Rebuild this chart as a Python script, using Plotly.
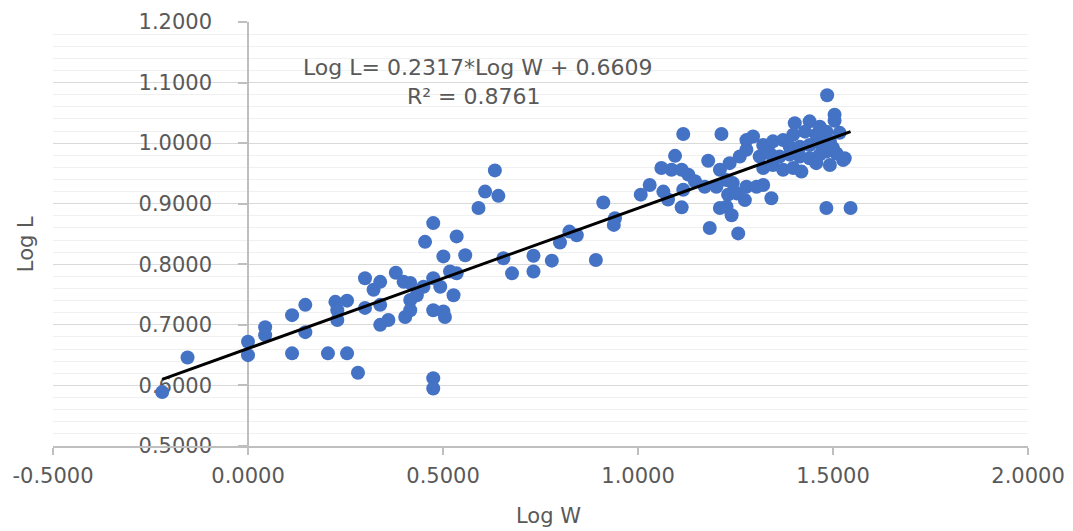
import plotly.graph_objects as go

# Data
log_w = [-0.220, -0.155, 0.000, 0.000, 0.044, 0.044, 0.113, 0.113, 0.147, 0.147,
         0.205, 0.254, 0.282, 0.224, 0.229, 0.229, 0.254, 0.300, 0.300, 0.322,
         0.339, 0.339, 0.339, 0.360, 0.379, 0.399, 0.416, 0.403, 0.416, 0.416,
         0.433, 0.450, 0.475, 0.493, 0.475, 0.501, 0.505, 0.454, 0.475, 0.501,
         0.535, 0.557, 0.518, 0.535, 0.527, 0.475, 0.475, 0.591, 0.655, 0.677,
         0.732, 0.732, 0.779, 0.800, 0.824, 0.843, 0.892, 0.911, 0.941, 0.938,
         0.608, 0.642, 0.633,
         1.007, 1.030, 1.060, 1.086, 1.112, 1.095, 1.116, 1.214, 1.129, 1.065,
         1.077, 1.116, 1.146, 1.171, 1.112, 1.180, 1.210, 1.235, 1.261, 1.278,
         1.278, 1.295, 1.210, 1.227, 1.240, 1.184, 1.257, 1.274, 1.227, 1.243,
         1.201, 1.231, 1.253, 1.278, 1.304, 1.321, 1.342, 1.485, 1.504, 1.504,
         1.402, 1.440, 1.466, 1.398, 1.428, 1.457, 1.483, 1.517, 1.321, 1.346,
         1.372, 1.389, 1.415, 1.440, 1.466, 1.492, 1.500, 1.312, 1.338, 1.363,
         1.389, 1.415, 1.440, 1.466, 1.483, 1.509, 1.530, 1.321, 1.346, 1.372,
         1.398, 1.419, 1.457, 1.492, 1.526, 1.483, 1.545]
log_l = [0.589, 0.646, 0.672, 0.650, 0.696, 0.683, 0.716, 0.653, 0.733, 0.688,
         0.653, 0.653, 0.621, 0.738, 0.724, 0.708, 0.740, 0.777, 0.728, 0.758,
         0.771, 0.733, 0.700, 0.708, 0.786, 0.771, 0.769, 0.713, 0.741, 0.724,
         0.749, 0.763, 0.777, 0.763, 0.724, 0.722, 0.713, 0.837, 0.868, 0.813,
         0.846, 0.815, 0.788, 0.785, 0.749, 0.612, 0.595, 0.893, 0.810, 0.785,
         0.814, 0.788, 0.806, 0.836, 0.854, 0.848, 0.807, 0.902, 0.876, 0.865,
         0.920, 0.913, 0.955,
         0.915, 0.931, 0.959, 0.956, 0.956, 0.979, 1.015, 1.015, 0.948, 0.920,
         0.907, 0.923, 0.937, 0.928, 0.894, 0.971, 0.956, 0.967, 0.978, 1.005,
         0.989, 1.011, 0.893, 0.895, 0.881, 0.860, 0.851, 0.906, 0.939, 0.934,
         0.928, 0.915, 0.917, 0.928, 0.928, 0.931, 0.909, 1.079, 1.047, 1.037,
         1.033, 1.036, 1.027, 1.014, 1.019, 1.014, 1.019, 1.017, 0.997, 1.003,
         1.005, 0.994, 0.994, 0.997, 1.000, 1.003, 0.992, 0.978, 0.983, 0.978,
         0.981, 0.978, 0.975, 0.981, 0.986, 0.983, 0.975, 0.959, 0.964, 0.956,
         0.959, 0.953, 0.967, 0.964, 0.972, 0.893, 0.893]

slope = 0.2317
intercept = 0.6609
r_squared = 0.8761

x_tick_vals = [-0.5, 0.0, 0.5, 1.0, 1.5, 2.0]
x_tick_text = ["-0.5000", "0.0000", "0.5000", "1.0000", "1.5000", "2.0000"]
y_tick_vals = [0.5, 0.6, 0.7, 0.8, 0.9, 1.0, 1.1, 1.2]
y_tick_text = ["0.5000", "0.6000", "0.7000", "0.8000", "0.9000", "1.0000", "1.1000", "1.2000"]

x_range = [-0.5, 2.0]
y_range = [0.5, 1.2]

FONT = "DejaVu Sans"
TXT = "#595959"

trend_x = [min(log_w), max(log_w)]
trend_y = [slope * v + intercept for v in trend_x]

fig = go.Figure()
fig.add_trace(go.Scatter(
    x=log_w, y=log_l, mode="markers",
    marker=dict(color="#4472C4", size=14, line=dict(width=0)),
    showlegend=False, hoverinfo="x+y"))
fig.add_trace(go.Scatter(
    x=trend_x, y=trend_y, mode="lines",
    line=dict(color="black", width=3),
    showlegend=False, hoverinfo="skip"))

pos0 = (0 - x_range[0]) / (x_range[1] - x_range[0])

fig.update_layout(
    width=1073, height=531,
    margin=dict(l=53, r=45, t=22, b=85, autoexpand=False),
    paper_bgcolor="white", plot_bgcolor="white",
    font=dict(family=FONT, size=21, color=TXT),
    xaxis=dict(
        range=x_range, tickvals=x_tick_vals, ticktext=x_tick_text,
        showgrid=False, zeroline=False, automargin=False,
        showline=True, linecolor="#BFBFBF", linewidth=1.5,
        ticks="outside", ticklen=7, tickcolor="#BFBFBF", tickwidth=1.5,
        tickfont=dict(family=FONT, size=21, color=TXT),
        ticklabelstandoff=3,
    ),
    yaxis=dict(
        range=y_range, tickvals=y_tick_vals, ticktext=y_tick_text,
        anchor="free", position=pos0, side="left",
        showgrid=True, gridcolor="#D9D9D9", gridwidth=1.3,
        zeroline=False, automargin=False,
        showline=True, linecolor="#BFBFBF", linewidth=1.5,
        ticks="outside", ticklen=9, tickcolor="#BFBFBF", tickwidth=1.5,
        tickfont=dict(family=FONT, size=21, color=TXT),
        ticklabelstandoff=22,
        layer="below traces",
        minor=dict(dtick=0.02, tick0=0.5, showgrid=True, gridcolor="#F0F0F0", gridwidth=1.3, ticks=""),
    ),
    annotations=[
        dict(text="Log L= %.4f*Log W + %.4f" % (slope, intercept), xref="paper", yref="paper",
             x=0.435, y=0.892, xanchor="center", yanchor="middle", showarrow=False,
             font=dict(family=FONT, size=22, color=TXT)),
        dict(text="R² = %.4f" % r_squared, xref="paper", yref="paper",
             x=0.432, y=0.824, xanchor="center", yanchor="middle", showarrow=False,
             font=dict(family=FONT, size=22, color=TXT)),
        dict(text="Log L", xref="paper", yref="paper", x=-0.0277, y=0.476,
             xanchor="center", yanchor="middle", textangle=-90, showarrow=False,
             font=dict(family=FONT, size=21, color=TXT)),
        dict(text="Log W", xref="paper", yref="paper", x=0.508, y=-0.166,
             xanchor="center", yanchor="middle", showarrow=False,
             font=dict(family=FONT, size=21, color=TXT)),
    ],
)

fig.write_html(
    "out.html",
    config={"displayModeBar": False},
    post_script="document.body.style.margin='0';document.body.style.overflow='hidden';",
)
